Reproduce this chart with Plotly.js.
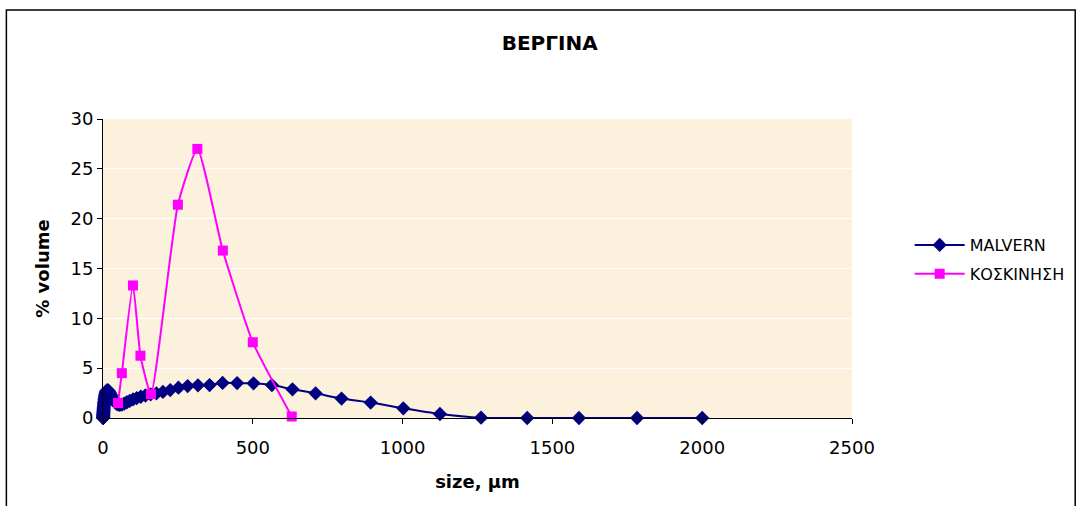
<!DOCTYPE html>
<html>
<head>
<meta charset="utf-8">
<script src="https://cdn.plot.ly/plotly-3.0.1.min.js"></script>
<style>html,body{margin:0;padding:0;background:#fff;}#chart{width:1082px;height:506px;}</style>
</head>
<body>
<div id="chart"></div>
<script>
// MALVERN (laser diffraction) size classes, µm, and % volume
const malvernSize = [0.4,0.45,0.5,0.56,0.63,0.71,0.8,0.89,1.0,1.12,1.26,1.42,1.59,1.78,2.0,2.24,2.52,2.83,3.17,3.56,3.99,4.48,5.02,5.64,6.32,7.1,7.96,8.93,10.0,11.2,12.6,14.2,15.9,17.8,20.0,22.4,25.2,28.3,31.7,35.6,39.9,44.8,50.2,56.4,63.2,71.0,79.6,89.3,100.2,112.5,126.2,141.6,158.9,178.3,200,224.4,251.8,282.5,317,355.7,399.1,447.7,502.4,563.7,632.5,709.6,796.2,893.4,1002.4,1124.7,1261.9,1415.9,1588.7,1782.5,2000];
const malvernVol = [0,0.02,0.05,0.08,0.12,0.17,0.22,0.28,0.35,0.42,0.5,0.58,0.67,0.76,0.86,0.96,1.07,1.18,1.3,1.42,1.55,1.68,1.82,1.96,2.1,2.24,2.37,2.5,2.6,2.68,2.74,2.78,2.78,2.74,2.66,2.54,2.38,2.2,2.0,1.8,1.6,1.45,1.35,1.32,1.35,1.45,1.58,1.72,1.86,2.0,2.13,2.26,2.38,2.48,2.62,2.8,3.04,3.2,3.28,3.3,3.52,3.5,3.48,3.3,2.88,2.48,1.95,1.55,0.97,0.4,0.03,0,0,0,0];
// ΚΟΣΚΙΝΗΣΗ (sieving) sizes, µm, and % volume
const sieveSize = [50,63,100,125,160,250,315,400,500,630];
const sieveVol = [1.5,4.5,13.3,6.25,2.4,21.4,27.0,16.8,7.6,0.15];
const xTicks = [0,500,1000,1500,2000,2500];
const yTicks = [0,5,10,15,20,25,30];

const FONT = 'DejaVu Sans, Verdana, sans-serif';
const traces = [
  {x: malvernSize, y: malvernVol, name: 'MALVERN', legendgroup: 'a', type: 'scatter', mode: 'lines+markers',
   line: {color: '#000080', width: 2, shape: 'spline', smoothing: 0.6},
   marker: {symbol: 'diamond', size: 11, color: '#000080'}, cliponaxis: false},
  {x: sieveSize, y: sieveVol, name: 'ΚΟΣΚΙΝΗΣΗ', legendgroup: 'b', type: 'scatter', mode: 'lines+markers',
   line: {color: '#FF00FF', width: 2, shape: 'spline', smoothing: 0.5},
   marker: {symbol: 'square', size: 10, color: '#FF00FF'}, cliponaxis: false}
];
const layout = {
  width: 1082, height: 506,
  margin: {l: 103, r: 227, t: 119, b: 88},
  paper_bgcolor: '#ffffff', plot_bgcolor: '#FBF1DC',
  font: {family: FONT, color: '#000', size: 17},
  title: {text: '<b>ΒΕΡΓΙΝΑ</b>', x: 0.508, xanchor: 'center', y: 0.915, yanchor: 'middle',
          font: {family: FONT, size: 20, color: '#000'}},
  xaxis: {range: [0, 2500], tickvals: xTicks, ticktext: xTicks.map(String), showgrid: false, zeroline: false,
          showline: true, linecolor: '#000', linewidth: 1, ticks: 'outside', ticklen: 5, tickcolor: '#000',
          ticklabelstandoff: 8,
          tickfont: {size: 18}, title: {text: '<b>size, μm</b>', font: {size: 18}, standoff: 18}},
  yaxis: {range: [0, 30], tickvals: yTicks, ticktext: yTicks.map(String), showgrid: true, gridcolor: '#ffffff', gridwidth: 1,
          zeroline: false, showline: true, linecolor: '#000', linewidth: 1, ticks: 'outside', ticklen: 5, tickcolor: '#000',
          tickfont: {size: 18}, title: {text: '<b>% volume</b>', font: {size: 18}, standoff: 16}},
  showlegend: true,
  legend: {x: 1.077, xanchor: 'left', y: 0.53, yanchor: 'middle', font: {size: 16}, bgcolor: 'rgba(0,0,0,0)',
           traceorder: 'grouped', tracegroupgap: 5, itemwidth: 50},
  shapes: [{type: 'rect', xref: 'paper', yref: 'paper', x0: -0.129, x1: 1.298, y0: -0.4, y1: 1.3645,
            line: {color: '#000', width: 1.5}, fillcolor: 'rgba(0,0,0,0)', layer: 'below'}]
};
Plotly.newPlot('chart', traces, layout, {displayModeBar: false, staticPlot: true});
</script>
</body>
</html>
